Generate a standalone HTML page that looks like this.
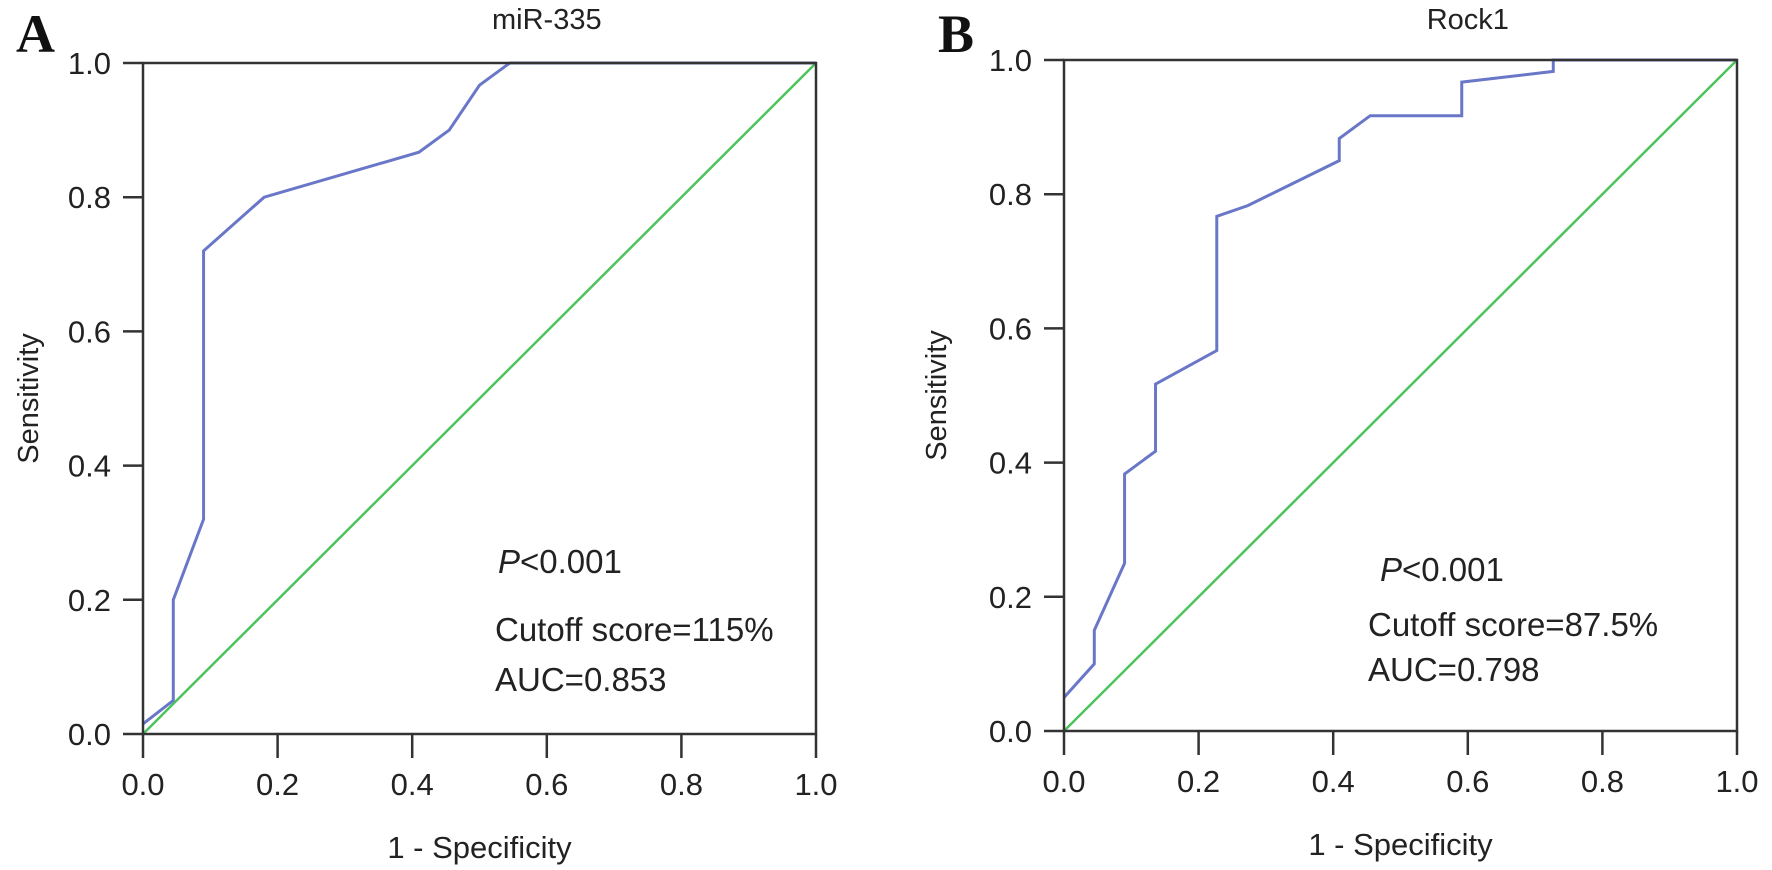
<!DOCTYPE html>
<html><head><meta charset="utf-8">
<style>
html,body{margin:0;padding:0;background:#fff;}
svg{display:block;font-family:"Liberation Sans",Arial,sans-serif;}
</style></head>
<body>
<svg id="fig" width="1772" height="870" viewBox="0 0 1772 870" xmlns="http://www.w3.org/2000/svg"></svg>
<script>
const ticks = [0, 0.2, 0.4, 0.6, 0.8, 1.0];
const tickLabels = ["0.0", "0.2", "0.4", "0.6", "0.8", "1.0"];
const rocAx = [0, 0.045, 0.045, 0.09, 0.09, 0.18, 0.41, 0.455, 0.5, 0.545, 1.0];
const rocAy = [0.015, 0.05, 0.2, 0.32, 0.72, 0.8, 0.867, 0.9, 0.967, 1.0, 1.0];
const rocBx = [0, 0.045, 0.045, 0.09, 0.09, 0.136, 0.136, 0.227, 0.227, 0.273, 0.409, 0.409, 0.455, 0.591, 0.591, 0.727, 0.727, 1.0];
const rocBy = [0.05, 0.1, 0.15, 0.25, 0.383, 0.417, 0.517, 0.567, 0.767, 0.783, 0.85, 0.883, 0.917, 0.917, 0.967, 0.983, 1.0, 1.0];
const refX = [0, 1];
const refY = [0, 1];

const NS = "http://www.w3.org/2000/svg";
const svg = document.getElementById("fig");
function mk(tag, attrs, parent) {
  const e = document.createElementNS(NS, tag);
  for (const k in attrs) e.setAttribute(k, attrs[k]);
  (parent || svg).appendChild(e);
  return e;
}

function panel(cfg) {
  const g = mk("g", {});
  
  
  const X = v => cfg.x0 + v * (cfg.x1 - cfg.x0);
  const Y = v => cfg.y1 - v * (cfg.y1 - cfg.y0);

  const L = mk("text", {x: cfg.lx, y: cfg.ly, "font-family": "'Liberation Serif',serif", "font-weight": "bold", "font-size": 54, fill: "#111"}, g);
  L.textContent = cfg.letter;
  
  
  const T = mk("text", {x: X(0.6), y: 29, "text-anchor": "middle", "font-size": 29, fill: "#222"}, g);
  T.textContent = cfg.title;
  
  

  const ref = mk("polyline", {points: refX.map((v, i) => X(v) + "," + Y(refY[i])).join(" "), fill: "none", stroke: "#4cc35c", "stroke-width": 2.5}, g);
  
  
  const roc = mk("polyline", {points: cfg.xs.map((v, i) => X(v) + "," + Y(cfg.ys[i])).join(" "), fill: "none", stroke: "#6a77c8", "stroke-width": 3, "stroke-linejoin": "miter"}, g);
  
  

  const fr = mk("rect", {x: cfg.x0, y: cfg.y0, width: cfg.x1 - cfg.x0, height: cfg.y1 - cfg.y0, fill: "none", stroke: "#333", "stroke-width": 2.5}, g);
  
  

  ticks.forEach((t, i) => {
    const yl = mk("line", {x1: cfg.x0 - 20, x2: cfg.x0, y1: Y(t), y2: Y(t), stroke: "#333", "stroke-width": 2.5}, g);
    
    
    const yt = mk("text", {x: cfg.x0 - 32, y: Y(t) + 11, "text-anchor": "end", "font-size": 31, fill: "#222"}, g);
    yt.textContent = tickLabels[i];
    
    
    const xl = mk("line", {x1: X(t), x2: X(t), y1: cfg.y1, y2: cfg.y1 + 24, stroke: "#333", "stroke-width": 2.5}, g);
    
    
    const xt = mk("text", {x: X(t), y: cfg.y1 + 61, "text-anchor": "middle", "font-size": 31, fill: "#222"}, g);
    xt.textContent = tickLabels[i];
    
    
  });

  const xa = mk("text", {x: (cfg.x0 + cfg.x1) / 2, y: cfg.y1 + 124, "text-anchor": "middle", "font-size": 31, fill: "#222"}, g);
  xa.textContent = "1 - Specificity";
  
  
  const cy = (cfg.y0 + cfg.y1) / 2;
  const ya = mk("text", {x: cfg.sx, y: cy, "text-anchor": "middle", "font-size": 29, fill: "#222", transform: "rotate(-90 " + cfg.sx + " " + cy + ")"}, g);
  ya.textContent = "Sensitivity";
  
  

  const p = mk("text", {x: cfg.px, y: cfg.py, "font-size": 33, fill: "#222"}, g);
  p.innerHTML = '<tspan font-style="italic">P</tspan>&lt;0.001';
  
  
  const c = mk("text", {x: cfg.cx, y: cfg.cy, "font-size": 33, fill: "#222"}, g);
  c.textContent = cfg.cutoff;
  
  
  const a = mk("text", {x: cfg.cx, y: cfg.ay, "font-size": 33, fill: "#222"}, g);
  a.textContent = cfg.auc;
  
  
}

panel({name: "panel-a-mir335", letter: "A", lx: 16, ly: 52, title: "miR-335",
  x0: 143, x1: 816, y0: 63, y1: 734, sx: 38, xs: rocAx, ys: rocAy,
  px: 498, py: 573, cx: 495, cy: 641, ay: 691,
  cutoff: "Cutoff score=115%", auc: "AUC=0.853"});
panel({name: "panel-b-rock1", letter: "B", lx: 938, ly: 52, title: "Rock1",
  x0: 1064, x1: 1737, y0: 60, y1: 731, sx: 946, xs: rocBx, ys: rocBy,
  px: 1380, py: 581, cx: 1368, cy: 636, ay: 681,
  cutoff: "Cutoff score=87.5%", auc: "AUC=0.798"});
</script>
</body></html>
